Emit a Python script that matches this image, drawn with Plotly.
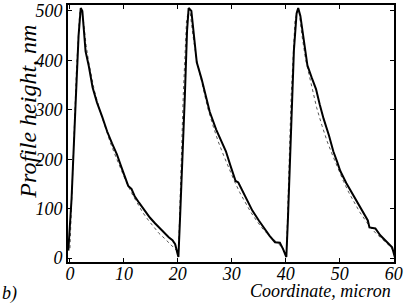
import plotly.graph_objects as go

# Solid (measured) profile
x_solid = [-0.3, 0.3, 1.0, 1.6, 2.0, 2.3, 2.9, 3.5, 4.2, 5.0, 6.0, 6.9, 7.8, 8.7, 9.5, 10.2, 10.8, 11.4,
           12.0, 12.8, 13.9, 14.8, 15.8, 16.8, 17.5, 18.3, 19.0, 19.5, 19.9, 20.1,
           20.4, 20.8, 21.3, 21.7, 22.0, 22.5, 23.0, 23.5, 24.4, 25.2, 25.9, 27.1, 28.0, 28.9, 29.8,
           30.7, 31.2, 32.0, 33.0, 33.8, 35.0, 36.2, 37.0, 38.0, 38.9, 39.5, 40.1,
           40.4, 40.9, 41.5, 42.0, 42.3, 42.7, 43.3, 44.0, 44.8, 45.6, 46.3, 47.0, 48.0, 48.8, 49.5,
           50.1, 51.2, 52.4, 53.5, 54.3, 55.2, 55.5, 56.6, 57.5, 58.4, 59.2, 59.7, 60.2]
y_solid = [15, 120, 300, 450, 506, 500, 418, 388, 345, 315, 285, 256, 232, 210, 185, 162, 146, 140,
           125, 112, 96, 82, 70, 58, 50, 42, 36, 28, 10, 2,
           80, 182, 330, 460, 506, 500, 450, 396, 362, 325, 296, 260, 238, 216, 185,
           156, 153, 135, 112, 96, 76, 56, 45, 32, 31, 18, 2,
           80, 250, 420, 495, 506, 490, 440, 390, 365, 342, 310, 282, 248, 216, 195,
           176, 152, 130, 110, 95, 76, 62, 60, 46, 36, 28, 22, 2]

# Dotted (model) profile
x_dot = [0.0, 0.5, 1.2, 1.8, 2.1, 2.5, 3.0, 3.5, 4.5, 5.5, 6.5, 7.5, 8.5, 9.5, 10.5, 11.5, 12.5, 13.5,
         14.5, 15.5, 16.5, 17.5, 18.5, 19.3, 19.8, 20.1,
         20.5, 21.0, 21.6, 22.0, 22.3, 22.8, 23.5, 24.5, 25.5, 26.5, 27.5, 28.5, 29.5, 30.5, 31.5,
         32.5, 33.5, 34.5, 35.5, 36.5, 37.5, 38.5, 39.3, 39.8, 40.1,
         40.5, 41.0, 41.7, 42.2, 42.5, 43.0, 43.7, 44.7, 45.7, 46.7, 47.7, 48.7, 49.7, 50.7, 51.7,
         52.7, 53.7, 54.7, 55.7, 56.7, 57.7, 58.7, 59.5, 60.0]
y_dot = [20, 180, 380, 495, 505, 480, 430, 395, 340, 300, 265, 233, 205, 178, 152, 130, 110, 92,
         77, 63, 50, 40, 30, 22, 15, 5,
         150, 330, 480, 503, 495, 450, 400, 350, 305, 268, 235, 207, 180, 155, 132,
         112, 93, 77, 62, 50, 39, 30, 22, 12, 5,
         150, 330, 480, 503, 495, 450, 400, 350, 305, 268, 235, 207, 180, 155, 132,
         112, 93, 77, 62, 50, 39, 30, 22, 12]

x_ticks = [0, 10, 20, 30, 40, 50, 60]
y_ticks = [0, 100, 200, 300, 400, 500]

serif = "Liberation Serif"

fig = go.Figure()
fig.add_trace(go.Scatter(x=x_dot, y=y_dot, mode="lines",
                         line=dict(color="#555555", width=1, dash="dot")))
fig.add_trace(go.Scatter(x=x_solid, y=y_solid, mode="lines",
                         line=dict(color="black", width=2)))

axis_common = dict(showgrid=False, zeroline=False, showline=True, linecolor="black", linewidth=2,
                   mirror="allticks", ticks="inside", ticklen=4, tickwidth=1, tickcolor="black",
                   ticklabeloverflow="allow",
                   tickfont=dict(family=serif, size=18, color="black", style="italic"))

fig.update_xaxes(range=[-0.36, 60.05], tickvals=x_ticks, ticktext=[str(v) for v in x_ticks],
                 ticklabelstandoff=-6, **axis_common)
fig.update_yaxes(range=[-8, 512], tickvals=y_ticks, ticktext=[str(v) for v in y_ticks], **axis_common)

fig.update_layout(
    width=404, height=303,
    margin=dict(l=68, r=1, t=2, b=41),
    paper_bgcolor="white", plot_bgcolor="white",
    showlegend=False,
    annotations=[
        dict(text="Profile height, nm", x=0, y=0.585, xref="paper", yref="paper", showarrow=False,
             xshift=-40, textangle=-90,
             font=dict(family=serif, size=24, color="black", style="italic"),
             xanchor="center", yanchor="middle"),
        dict(text="Coordinate, micron", x=1.0, y=0, xref="paper", yref="paper", showarrow=False,
             xanchor="right", yanchor="middle", yshift=-29, xshift=-1,
             font=dict(family=serif, size=18, color="black", style="italic")),
        dict(text="b)", x=0, y=0, xref="paper", yref="paper", showarrow=False,
             xanchor="left", yanchor="middle", xshift=-68, yshift=-31,
             font=dict(family=serif, size=18, color="black", style="italic")),
    ],
)

fig.write_html("out.html", config={"displayModeBar": False},
               post_script="document.body.style.margin='0';")
